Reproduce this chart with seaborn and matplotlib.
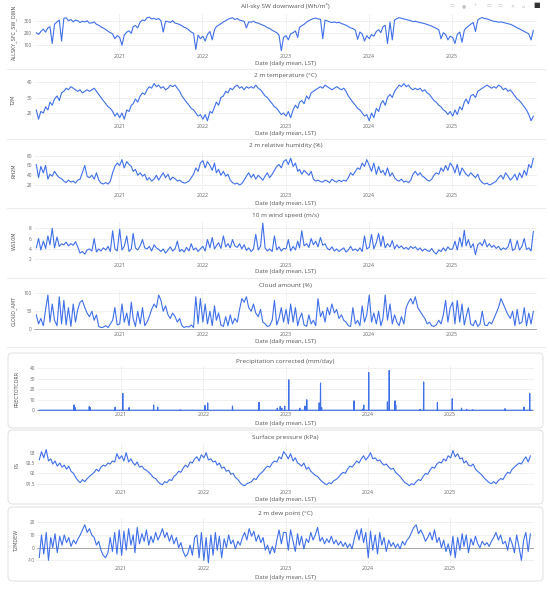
import pandas as pd
import seaborn as sns
import matplotlib.pyplot as plt
from matplotlib.patches import FancyBboxPatch

# Dekadal readings (3 per month, Jan 2020 - Dec 2025)
years = list(range(2020, 2026))
dates = [pd.Timestamp(y, m, d) for y in years for m in range(1, 13) for d in (3, 13, 23)]

sw_down = [
    200, 185, 210, 230, 205, 240, 250, 110, 270, 290, 305, 130, 320, 325, 300, 310, 290, 305, 300, 285, 295, 290, 300, 280, 282, 290, 270, 262, 248, 240, 225, 212, 200, 190, 150, 175,
    160, 95, 180, 205, 215, 195, 250, 260, 240, 290, 305, 300, 325, 330, 315, 320, 310, 318, 300, 205, 295, 292, 285, 300, 280, 275, 268, 258, 245, 238, 222, 205, 195, 60, 180, 150,
    170, 130, 185, 210, 140, 225, 250, 262, 275, 290, 300, 312, 320, 325, 310, 318, 305, 300, 295, 240, 290, 288, 296, 284, 280, 270, 262, 255, 242, 236, 220, 210, 200, 180, 50, 160,
    175, 140, 190, 200, 215, 160, 245, 258, 270, 288, 300, 310, 318, 322, 315, 312, 150, 305, 298, 290, 285, 290, 282, 288, 276, 270, 262, 252, 240, 235, 220, 145, 205, 190, 130, 175,
    150, 185, 170, 210, 225, 200, 250, 262, 110, 290, 140, 305, 318, 325, 320, 315, 310, 305, 300, 292, 296, 288, 285, 280, 275, 268, 262, 255, 245, 235, 225, 150, 200, 185, 140, 170,
    160, 110, 185, 205, 120, 220, 240, 255, 270, 285, 210, 305, 320, 326, 318, 315, 308, 300, 295, 292, 288, 290, 285, 280, 275, 270, 262, 252, 240, 232, 220, 210, 200, 190, 140, 220,
]
t2m = [
    22, 16, 21, 20, 24, 22, 27, 25, 29, 31, 28, 33, 34, 36, 35, 37, 36, 35, 34, 35, 33, 34, 35, 34, 35, 36, 34, 32, 30, 28, 26, 24, 23, 21, 18, 20,
    17, 20, 16, 22, 21, 25, 26, 29, 27, 31, 33, 32, 35, 37, 36, 39, 37, 38, 36, 37, 35, 36, 38, 37, 38, 36, 34, 31, 29, 27, 25, 23, 22, 20, 18, 19,
    16, 19, 15, 21, 20, 24, 27, 25, 30, 31, 34, 33, 36, 35, 37, 38, 36, 37, 35, 37, 36, 37, 36, 38, 36, 35, 33, 31, 30, 28, 26, 24, 23, 21, 19, 20,
    18, 21, 17, 22, 25, 23, 27, 28, 26, 31, 29, 33, 34, 35, 36, 37, 36, 38, 37, 36, 35, 36, 37, 36, 35, 36, 34, 31, 29, 27, 25, 23, 22, 20, 18, 19,
    15, 20, 17, 23, 21, 26, 28, 25, 30, 32, 30, 34, 36, 38, 37, 39, 37, 38, 36, 35, 36, 35, 36, 34, 35, 33, 32, 30, 28, 27, 25, 24, 22, 21, 19, 21,
    18, 22, 19, 24, 22, 27, 29, 26, 31, 32, 30, 34, 35, 36, 37, 38, 37, 36, 37, 36, 38, 37, 35, 36, 34, 35, 33, 31, 29, 28, 26, 24, 22, 19, 15, 18,
]
rh2m = [
    62, 35, 58, 45, 60, 32, 42, 38, 48, 40, 35, 33, 28, 25, 30, 26, 28, 24, 30, 32, 45, 60, 38, 35, 40, 32, 45, 30, 24, 22, 25, 22, 28, 45, 58, 65,
    60, 72, 55, 68, 62, 58, 48, 52, 40, 45, 38, 42, 30, 35, 28, 32, 40, 30, 38, 45, 35, 42, 30, 36, 33, 28, 30, 26, 24, 25, 28, 35, 42, 55, 48, 65,
    70, 55, 68, 60, 50, 65, 45, 52, 40, 48, 38, 42, 30, 25, 22, 24, 20, 23, 30, 38, 45, 35, 42, 32, 40, 35, 30, 38, 45, 35, 42, 50, 58, 62, 55, 68,
    72, 62, 75, 58, 65, 48, 52, 42, 50, 45, 40, 48, 32, 28, 30, 27, 26, 30, 28, 25, 32, 28, 26, 30, 27, 30, 28, 35, 45, 40, 48, 55, 52, 65, 58, 72,
    60, 48, 65, 42, 58, 45, 50, 40, 55, 38, 45, 35, 30, 28, 32, 26, 28, 25, 30, 42, 48, 40, 45, 38, 35, 30, 28, 32, 40, 45, 42, 55, 48, 60, 50, 65,
    58, 45, 62, 40, 55, 48, 42, 38, 45, 40, 35, 42, 30, 25, 22, 24, 20, 22, 25, 28, 35, 40, 32, 45, 38, 30, 35, 42, 30, 45, 35, 50, 40, 62, 55, 75,
]
ws10m = [
    4.2, 6.0, 3.8, 5.5, 4.1, 6.5, 4.8, 8.0, 4.2, 6.3, 4.5, 5.0, 4.8, 5.3, 4.6, 5.0, 4.7, 5.4, 4.4, 3.2, 3.5, 3.0, 3.8, 4.0, 3.6, 6.0, 3.4, 4.0, 3.6, 4.2, 3.8, 4.5, 3.5, 7.5, 4.0, 3.6,
    7.8, 3.8, 4.5, 6.5, 3.5, 4.0, 7.0, 4.2, 3.8, 4.6, 5.8, 4.2, 4.0, 4.5, 3.6, 4.8, 4.2, 3.9, 3.5, 4.0, 3.2, 3.8, 4.4, 3.6, 4.0, 5.5, 3.5, 3.9, 3.4, 4.3, 3.6, 5.0, 3.8, 4.2, 3.5, 4.0,
    4.5, 3.6, 5.8, 4.2, 6.2, 4.0, 4.6, 5.2, 4.1, 6.5, 4.4, 5.0, 4.2, 5.8, 4.6, 4.3, 5.0, 4.0, 4.8, 3.7, 4.2, 3.5, 4.0, 6.8, 3.8, 4.5, 9.0, 4.2, 3.6, 4.0, 3.5, 6.5, 3.8, 4.4, 3.6, 4.1,
    4.0, 5.8, 3.6, 4.5, 3.8, 5.5, 4.2, 7.5, 4.6, 5.0, 4.3, 6.0, 4.8, 5.5, 4.4, 6.2, 4.7, 5.0, 4.1, 3.8, 4.4, 3.6, 4.0, 3.5, 3.9, 4.2, 3.4, 3.8, 4.5, 3.7, 4.0, 3.6, 4.2, 3.5, 6.5, 4.0,
    4.3, 6.8, 4.0, 5.2, 7.0, 4.5, 6.5, 4.2, 5.0, 4.4, 5.6, 4.0, 4.8, 4.2, 4.6, 4.0, 4.3, 3.9, 4.5, 4.1, 4.4, 3.8, 4.2, 3.6, 4.0, 3.7, 3.5, 4.1, 3.4, 3.0, 3.8, 3.5, 4.2, 3.6, 4.4, 3.9,
    4.0, 5.5, 3.8, 6.2, 4.4, 7.6, 4.6, 5.8, 4.2, 5.0, 2.9, 4.8, 5.2, 4.6, 5.8, 4.4, 5.0, 4.3, 4.7, 4.1, 4.5, 3.8, 4.2, 3.9, 4.4, 5.9, 3.7, 4.0, 5.6, 3.8, 4.5, 6.0, 3.9, 4.2, 3.6, 7.4,
]
cloud_amt = [
    40, 15, 30, 10, 55, 95, 20, 70, 25, 10, 90, 15, 80, 12, 60, 8, 70, 20, 55, 75, 80, 60, 45, 35, 50, 25, 40, 8, 5, 6, 10, 5, 15, 25, 60, 12,
    15, 70, 20, 45, 10, 75, 30, 8, 50, 15, 60, 10, 20, 35, 55, 70, 60, 95, 80, 50, 65, 40, 30, 45, 35, 20, 30, 10, 5, 8, 6, 12, 5, 90, 15, 85,
    20, 70, 15, 50, 10, 65, 25, 45, 12, 8, 35, 10, 40, 15, 30, 20, 55, 85, 75, 90, 60, 50, 70, 45, 35, 55, 20, 15, 8, 10, 25, 80, 12, 30, 60, 20,
    55, 15, 70, 20, 60, 10, 30, 45, 12, 8, 40, 15, 25, 10, 85, 35, 50, 20, 60, 40, 70, 45, 55, 30, 40, 25, 20, 10, 8, 60, 15, 25, 10, 65, 20, 40,
    95, 20, 45, 15, 50, 10, 30, 95, 25, 70, 15, 40, 20, 10, 35, 15, 60, 75, 85, 70, 90, 60, 50, 40, 30, 15, 20, 10, 8, 12, 25, 15, 40, 80, 20, 60,
    75, 15, 80, 20, 70, 12, 35, 60, 15, 10, 25, 8, 15, 50, 12, 10, 20, 15, 30, 45, 60, 85, 70, 55, 40, 30, 50, 10, 55, 15, 20, 60, 10, 45, 15, 50,
]
ps = [
    92.65, 93.05, 92.75, 93.15, 92.6, 92.7, 92.45, 92.6, 92.35, 92.5, 92.3, 92.4, 92.2, 92.35, 92.1, 92.0, 91.8, 91.65, 91.55, 91.7, 91.6, 91.75, 91.85, 91.95, 92.05, 92.2, 92.1, 92.3, 92.4, 92.35, 92.5, 92.45, 92.6, 92.55, 92.95, 92.7,
    92.85, 92.6, 93.0, 92.55, 92.7, 92.5, 92.4, 92.55, 92.3, 92.35, 92.2, 92.15, 92.05, 91.95, 91.8, 91.75, 91.6, 91.5, 91.45, 91.6, 91.55, 91.7, 91.65, 91.85, 91.95, 92.1, 92.05, 92.25, 92.4, 92.3, 92.55, 92.5, 92.7, 92.8, 92.6, 92.9,
    92.75, 93.0, 92.65, 92.7, 92.55, 92.6, 92.4, 92.5, 92.25, 92.3, 92.1, 92.15, 91.95, 92.0, 91.8, 91.7, 91.55, 91.45, 91.4, 91.5, 91.55, 91.6, 91.75, 91.7, 91.9, 92.0, 92.1, 92.25, 92.35, 92.3, 92.5, 92.6, 92.55, 92.8, 92.7, 93.05,
    92.9, 92.7, 92.95, 92.6, 92.75, 92.5, 92.45, 92.35, 92.5, 92.2, 92.3, 92.1, 92.0, 91.9, 91.85, 91.7, 91.6, 91.5, 91.45, 91.55, 91.5, 91.65, 91.7, 91.8, 91.95, 92.05, 92.0, 92.2, 92.35, 92.3, 92.45, 92.6, 92.5, 92.7, 92.85, 92.65,
    92.8, 93.0, 92.7, 92.75, 92.6, 92.65, 92.5, 92.4, 92.45, 92.3, 92.2, 92.25, 92.05, 91.95, 91.85, 91.7, 91.55, 91.5, 91.4, 91.5, 91.45, 91.6, 91.7, 91.65, 91.85, 92.0, 91.95, 92.15, 92.3, 92.25, 92.45, 92.55, 92.5, 92.7, 92.6, 92.85,
    92.75, 93.1, 92.8, 92.95, 92.7, 92.75, 92.5, 92.6, 92.4, 92.35, 92.45, 92.2, 92.1, 92.0, 91.9, 91.75, 91.65, 91.55, 91.5, 91.6, 91.5, 91.65, 91.75, 91.7, 91.9, 92.05, 92.0, 92.2, 92.3, 92.4, 92.5, 92.45, 92.65, 92.8, 92.55, 92.85,
]
t2mdew = [
    -8, 10, -5, 12, -10, 8, 0, 11, -4, 9, 2, 10, 4, 8, 1, 6, 3, 7, 10, 14, 18, 12, 15, 10, 8, 2, 5, -2, -6, -8, -4, 8, -3, 12, -5, 14,
    -6, 13, -2, 15, 2, 10, -4, 16, 3, 11, 5, 14, 2, 9, 4, 12, 6, 10, 15, 8, 12, 5, 10, 3, 8, 0, 4, -3, -7, -5, 2, -6, 8, 10, -8, 12,
    -10, 8, -12, 10, -6, 12, -2, 9, -8, 7, 0, 10, 3, 6, -1, 5, 2, 8, 12, 6, 15, 9, 13, 5, 10, 4, 8, -2, 2, -5, 1, -4, 6, 14, 3, 12,
    12, -2, 14, 5, -3, 11, 2, 9, -1, 7, 4, 12, 6, 10, 16, 5, 8, 3, 7, 4, 9, 3, 6, 2, 5, 1, 4, 0, 3, -1, 8, 14, 6, 15, 4, 12,
    -8, 13, -2, 10, -5, 12, 2, 8, -3, 6, 1, 4, 0, 3, -1, 5, 2, 6, 8, 12, 16, 18, 11, 14, 10, 5, 8, 12, 6, 14, 4, 8, 0, 6, -3, 3,
    -6, 9, -8, 8, -2, 11, 1, 10, -4, 7, 2, 9, 3, 0, 5, 2, 4, 1, 5, 8, 12, 6, 10, 3, 5, -2, 8, 3, -4, 10, 0, -10, 6, 12, -3, 11,
]

# Precipitation: dry days with a few rain events
rain_dates = ['2020-06-05', '2020-06-10', '2020-08-12', '2020-08-16', '2020-12-05', '2021-01-08',
              '2021-02-05', '2021-05-25', '2021-06-12', '2021-09-20', '2022-01-08', '2022-01-20',
              '2022-05-10', '2022-09-05', '2022-11-25', '2022-12-08', '2022-12-15', '2022-12-28',
              '2023-01-15', '2023-03-05', '2023-03-28', '2023-04-05', '2023-05-30', '2023-06-05',
              '2023-06-10', '2023-11-01', '2023-12-08', '2023-12-14', '2024-01-05', '2024-03-28',
              '2024-04-05', '2024-05-01', '2024-05-04', '2024-08-20', '2024-09-05', '2024-11-05',
              '2025-01-10', '2025-02-20', '2025-03-15', '2025-04-10', '2025-09-01', '2025-11-25',
              '2025-12-20']
rain_mm = [5, 2.5, 3.5, 2.5, 3, 16,
           2.5, 5, 3, 0.5, 4.5, 7,
           4, 7.5, 2, 3.5, 2, 4,
           29, 2, 4, 10, 7, 26,
           2.5, 9, 1, 5, 36, 8,
           38, 9, 5, 0.8, 27, 7.5,
           11, 2, 0.8, 0.5, 1.5, 3,
           16]

days = pd.date_range('2020-01-01', '2025-12-31', freq='D')
precip = pd.Series(0.0, index=days)
precip[pd.to_datetime(rain_dates)] = rain_mm

BLUE = '#4070e8'
W, H = 550, 589

sns.set_theme(style='white')
plt.rcParams['font.family'] = ['Open Sans', 'DejaVu Sans']

fig = plt.figure(figsize=(W / 100, H / 100), dpi=100)
fig.patch.set_facecolor('white')

# name, title, x values, y values, pixel box (top, bottom, left, right), title y, years y, xlabel y, ylim, yticks
panels = [
    ('ALLSKY_SFC_SW_DWN', 'All-sky SW downward (Wh/m²)', dates, sw_down, (14, 51, 34, 537), 6, 57, 64, (47, 356), [100, 200, 300]),
    ('T2M', '2 m temperature (°C)', dates, t2m, (80, 122, 34, 537), 76, 127, 134, (14.2, 41.3), [20, 30, 40]),
    ('RH2M', '2 m relative humidity (%)', dates, rh2m, (152, 190, 34, 537), 146, 196, 203, (9.8, 87.6), [20, 40, 60, 80]),
    ('WS10M', '10 m wind speed (m/s)', dates, ws10m, (222, 260, 34, 537), 215, 266, 272, (1.86, 9.2), [2, 4, 6, 8]),
    ('CLOUD_AMT', 'Cloud amount (%)', dates, cloud_amt, (291, 330, 34, 537), 285, 334, 341, (-1.9, 106), [0, 50, 100]),
    ('PRECTOTCORR', 'Precipitation corrected (mm/day)', days, precip.values, (366, 411, 37, 534), 361, 415, 424, (-0.75, 42.2), [0, 10, 20, 30, 40]),
    ('PS', 'Surface pressure (kPa)', dates, ps, (444, 487, 37, 534), 437, 492, 500, (91.34, 93.42), [91.5, 92, 92.5, 93]),
    ('T2MDEW', '2 m dew point (°C)', dates, t2mdew, (518, 564, 37, 534), 514, 568, 577, (-12.9, 23.4), [-10, 0, 10, 20]),
]

# light panel separators for the top block and cards for the lower three
for y in [69, 139, 208, 278, 347]:
    fig.add_artist(plt.Line2D([7 / W, 545 / W], [1 - y / H, 1 - y / H], color='#ececec', lw=0.8))
for top, bot in [(353, 428), (430, 504), (507, 581)]:
    card = FancyBboxPatch((8 / W, 1 - bot / H), 535 / W, (bot - top) / H,
                          boxstyle='round,pad=0,rounding_size=0.008', transform=fig.transFigure,
                          facecolor='white', edgecolor='#e3e3e3', lw=0.8, zorder=-5)
    fig.add_artist(card)

xmin, xmax = pd.Timestamp('2019-12-24'), pd.Timestamp('2026-01-08')
year_ticks = [pd.Timestamp(y, 1, 1) for y in range(2021, 2026)]

for name, title, xs, ys, (top, bot, left, right), ty, yy, ly, ylim, yticks in panels:
    ax = fig.add_axes([left / W, 1 - bot / H, (right - left) / W, (bot - top) / H])
    ax.set_facecolor('none')
    sns.lineplot(x=xs, y=ys, ax=ax, color=BLUE, linewidth=0.8)
    ax.set_xlim(xmin, xmax)
    ax.set_ylim(*ylim)
    ax.set_xticks(year_ticks)
    ax.set_xticklabels([str(t.year) for t in year_ticks])
    ax.set_yticks(yticks)
    ax.set_yticklabels([f'{v:g}' for v in yticks])
    ax.grid(True, color='#eeeeee', lw=0.6)
    ax.set_axisbelow(True)
    if ylim[0] < 0:
        ax.axhline(0, color='#a8a8a8', lw=0.7, zorder=1)
    for s in ax.spines.values():
        s.set_visible(False)
    pad = (yy - bot - 2.5) * 0.72
    ax.tick_params(axis='x', length=0, pad=pad, labelsize=3.8, labelcolor='#666666')
    ax.tick_params(axis='y', length=0, pad=1.5, labelsize=3.4, labelcolor='#666666')
    ax.set_xlabel('')
    ax.set_ylabel('')
    cx = (left + right) / 2 / W
    fig.text(cx, 1 - ty / H, title, ha='center', va='center', fontsize=4.6, color='#555555')
    fig.text(cx, 1 - ly / H, 'Date (daily mean, LST)', ha='center', va='center', fontsize=4.3, color='#555555')
    fig.text((14 if left < 35 else 17) / W, 1 - (top + bot) / 2 / H, name, rotation=90,
             ha='center', va='center', fontsize=3.5, color='#555555',
             family=['Liberation Sans Narrow', 'DejaVu Sans'])

# plotly-style mode bar in the top right corner
for x, g in zip([452, 464, 475, 489, 500, 512, 523], ['▭', '●', '+', '▭', '▭', '✕', '⌂']):
    fig.text(x / W, 1 - 6 / H, g, ha='center', va='center', fontsize=3.5, color='#c4c4c4')
fig.text(537 / W, 1 - 6 / H, '■', ha='center', va='center', fontsize=5, color='#333333')

fig.savefig('out.png', dpi=100)
